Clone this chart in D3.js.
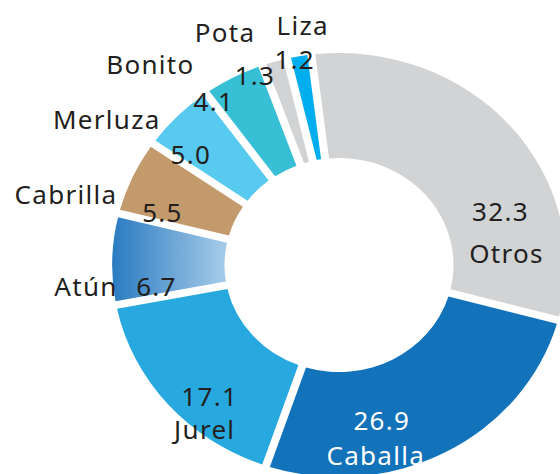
<!DOCTYPE html>
<html>
<head>
<meta charset="utf-8">
<script src="https://cdn.jsdelivr.net/npm/d3@7/dist/d3.min.js"></script>
<style>
    html, body { margin: 0; padding: 0; background: #fff; overflow: hidden; }
    svg { display: block; }
    .lbl { font-family: "Noto Sans", sans-serif; font-size: 26px; letter-spacing: 1.3px; }
</style>
</head>
<body>
<svg id="chart" width="560" height="474"></svg>
<script>
// data (landings share, %)
const species = ['Otros', 'Caballa', 'Jurel', 'Atún', 'Cabrilla', 'Merluza', 'Bonito', 'Pota', 'Liza'];
const shares = [32.3, 26.9, 17.1, 6.7, 5.5, 5.0, 4.1, 1.3, 1.2];
const valueLabels = ['32.3', '26.9', '17.1', '6.7', '5.5', '5.0', '4.1', '1.3', '1.2'];

// styles
const sliceColors = ['#d1d3d4', '#1373ba', '#27a9e0', 'url(#atunGrad)', '#c39a6b', '#58caf0', '#36bfd5', '#d1d3d4', '#00adee'];
const DEG = Math.PI / 180;
const cx = 339, cy = 265, stretchX = 1.07;
const innerR = 107, outerR = 212, padR = 200, gapPx = 7.5;

// label placement: angle nudge from slice middle (deg), radius, name offset from value
const labelPlace = {
    'Otros':    {nudge: 21.6, r: 160, name: [6, 41.5]},
    'Caballa':  {nudge: 13.7, r: 161, name: [-6, 35], white: true},
    'Jurel':    {nudge: -6.5, r: 179, name: [-5, 33]},
    'Atún':     {nudge: -9,   r: 172, name: [-70.5, 0]},
    'Cabrilla': {nudge: -7,   r: 173, name: [-96.5, -18]},
    'Merluza':  {nudge: -6,   r: 177, name: [-84, -35.5]},
    'Bonito':   {nudge: -7.7, r: 201, name: [-63.5, -36.5]},
    'Pota':     {nudge: -6,   r: 205, name: [-30, -43]},
    'Liza':     {nudge: -1.3, r: 209, name: [8, -34.5]}
};

const color = d3.scaleOrdinal().domain(species).range(sliceColors);

const rows = species.map((name, i) => ({name, share: shares[i], label: valueLabels[i]}));

const pie = d3.pie()
    .sort(null)
    .value(d => d.share)
    .startAngle(-7 * DEG)
    .endAngle(353 * DEG)
    .padAngle(gapPx / padR);

const arc = d3.arc()
    .innerRadius(innerR)
    .outerRadius(outerR)
    .padRadius(padR);

const svg = d3.select('#chart');

const grad = svg.append('defs').append('linearGradient')
    .attr('id', 'atunGrad')
    .attr('x1', 0).attr('x2', 1).attr('y1', 0).attr('y2', 0);
grad.append('stop').attr('offset', 0).attr('stop-color', '#2a7bc1');
grad.append('stop').attr('offset', 1).attr('stop-color', '#a8cce9');

const arcs = pie(rows);

svg.append('g')
    .attr('transform', `translate(${cx},${cy}) scale(${stretchX},1)`)
    .selectAll('path')
    .data(arcs)
    .enter()
    .append('path')
    .attr('d', arc)
    .attr('fill', d => color(d.data.name));

function polar(a, r) {
    return [cx + stretchX * r * Math.sin(a), cy - r * Math.cos(a)];
}

const labels = svg.append('g');
arcs.forEach(d => {
    const p = labelPlace[d.data.name];
    const mid = (d.startAngle + d.endAngle) / 2 + p.nudge * DEG;
    const [x, y] = polar(mid, p.r);
    const fill = p.white ? '#fff' : '#231f20';
    labels.append('text')
        .attr('class', 'lbl')
        .attr('x', x).attr('y', y + 9.3)
        .attr('text-anchor', 'middle')
        .attr('fill', fill)
        .text(d.data.label);
    labels.append('text')
        .attr('class', 'lbl')
        .attr('x', x + p.name[0]).attr('y', y + p.name[1] + 9.3)
        .attr('text-anchor', 'middle')
        .attr('fill', fill)
        .text(d.data.name);
});
</script>
</body>
</html>
